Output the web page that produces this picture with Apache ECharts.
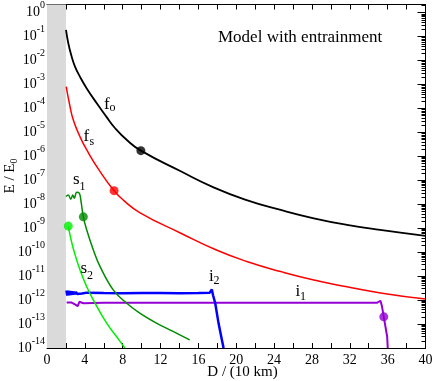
<!DOCTYPE html>
<html><head><meta charset="utf-8">
<script src="https://cdn.jsdelivr.net/npm/echarts@6/dist/echarts.min.js"></script>
<style>html,body{margin:0;padding:0;background:#fff}#c{width:436px;height:381px}</style>
</head><body><div id="c"></div>
<script>
// ---- data ----
const fo_x = [2.01,2.25,2.61,2.96,3.49,4.2,5.26,6.23,7.2,8.5,9.92,14.08,17.6,21.1,24.7,28.2,31.7,35.2,40];
const fo_y = [1.9e-1,5.3e-2,1.45e-2,5.6e-3,2.1e-3,6.9e-4,1.65e-4,4.8e-5,1.5e-5,4.6e-6,1.74e-6,2.45e-7,5.1e-8,1.5e-8,5.8e-9,2.6e-9,1.38e-9,8.5e-10,4.8e-10];

const fs_x = [2.03,2.4,2.78,3.49,4.2,5.61,7.09,8.07,9.84,14.14,17.9,21.2,24.7,28.2,31.7,35.25,40];
const fs_y = [8.1e-4,1.4e-4,3.3e-5,6.6e-6,1.86e-6,2.3e-7,3.7e-8,1.5e-8,4.4e-9,6.2e-10,1.23e-10,4.0e-11,1.55e-11,6.9e-12,3.6e-12,2.0e-12,1.1e-12];

const s1_x = [2.01,2.25,2.51,2.72,2.89,3.14,3.42,3.6,3.84,4.2,4.9,5.61,7.02,8.43,9.84,11.61,13.37,15.08];
const s1_y = [2.1e-8,2.45e-8,1.62e-8,2.45e-8,1.78e-8,3.2e-8,2.9e-8,1.29e-8,3.0e-9,8.5e-10,1.23e-10,2.5e-11,2.6e-12,7.4e-13,2.8e-13,1.07e-13,4.8e-14,2.2e-14];

const s2_x = [2.25,2.47,2.82,3.49,4.2,4.9,6.32,7.72,8.22];
const s2_y = [1.23e-9,4.5e-10,1.23e-10,1.8e-11,3.6e-12,1.0e-12,1.07e-13,1.9e-14,1.0e-14];

const i2_x = [2.05,2.15,2.25,2.35,2.45,2.55,2.65,2.75,2.85,2.95,3.05,3.2,3.4,3.7,4.2,6,8,10,12,14,16,17.2,17.42,17.55,17.78,18.13,18.49,18.66];
const i2_y = [2.5e-12,1.55e-12,2.45e-12,1.6e-12,2.4e-12,1.65e-12,2.3e-12,1.7e-12,2.25e-12,1.75e-12,2.2e-12,1.8e-12,2.1e-12,1.9e-12,2.05e-12,2.0e-12,1.95e-12,2.0e-12,2.0e-12,1.95e-12,2.0e-12,2.05e-12,2.8e-12,1.6e-12,7.4e-13,1.07e-13,2.1e-14,1.0e-14];

const i1_x = [2.08,2.6,2.96,3.25,3.42,3.84,6,10,15,20,25,30,34.9,35.24,35.4,35.59,35.95,36.01];
const i1_y = [7.9e-13,7.9e-13,6.6e-13,5.6e-13,8.5e-13,7.4e-13,7.8e-13,7.7e-13,7.8e-13,7.7e-13,7.8e-13,7.7e-13,7.8e-13,9.4e-13,5.5e-13,2.0e-13,2.95e-14,1.0e-14];

const mk_x = [9.92, 7.09, 3.84, 2.25, 35.59];
const mk_y = [1.74e-6, 3.7e-8, 3.0e-9, 1.23e-9, 2.0e-13];
const mk_color = ['#000000','#ff0000','#008b00','#00ee00','#9400d3'];

const xTicks = [0,4,8,12,16,20,24,28,32,36,40];
const yExp = [-14,-13,-12,-11,-10,-9,-8,-7,-6,-5,-4,-3,-2,-1,0];
const shadeRange = [0, 2];

// ---- build ----
const FONT = '"Liberation Serif", "Times New Roman", serif';
const zip = (xs, ys) => xs.map((x, i) => [x, ys[i]]);
const yMajor = yExp.map(e => Math.pow(10, e));
const yMinor = [];
yExp.forEach(e => { for (let k = 2; k <= 9; k++) { const v = k * Math.pow(10, e); if (v <= 2.2) yMinor.push(v); } });

const chart = echarts.init(document.getElementById('c'), null, {renderer: 'canvas'});
const axLine = {show: true, lineStyle: {color: '#000', width: 1}};
const yBase = {type: 'log', logBase: 10, min: 1e-14, max: 2.2, splitLine: {show: false}, minorTick: {show: false}, axisLine: axLine};
const supRich = {
  b: {fontFamily: FONT, fontSize: 14, color: '#000', lineHeight: 24, verticalAlign: 'middle'},
  s: {fontFamily: FONT, fontSize: 10, color: '#000', lineHeight: 11, verticalAlign: 'top'}
};
const line = (xs, ys, color, w, smooth, z) => ({
  type: 'line', data: zip(xs, ys), showSymbol: false, symbol: 'none',
  lineStyle: {color: color, width: w}, smooth: smooth,
  z: z || 3, silent: true, clip: true
});

chart.setOption({
  animation: false,
  backgroundColor: '#fff',
  grid: {left: 47, right: 10.5, top: 4.5, bottom: 33, containLabel: false},
  xAxis: [
    {type: 'value', position: 'bottom', min: 0, max: 40, interval: 2, splitLine: {show: false}, axisLine: axLine,
     axisTick: {show: true, inside: true, length: 5, lineStyle: {color: '#000'}},
     axisLabel: {margin: 5, fontFamily: FONT, fontSize: 14, color: '#000',
       formatter: v => xTicks.indexOf(v) >= 0 ? String(v) : ''}},
    {type: 'value', position: 'top', min: 0, max: 40, interval: 2, splitLine: {show: false}, axisLine: axLine,
     axisTick: {show: true, inside: true, length: 5, lineStyle: {color: '#000'}}, axisLabel: {show: false}}
  ],
  yAxis: [
    Object.assign({}, yBase, {position: 'left',
      axisTick: {show: true, inside: true, length: 8, customValues: yMajor, lineStyle: {color: '#000'}},
      axisLabel: {show: true, margin: 2, customValues: yMajor,
        formatter: v => '{b|10}{s|' + Math.round(Math.log10(v)) + '}', rich: supRich}}),
    Object.assign({}, yBase, {position: 'left',
      axisTick: {show: true, inside: true, length: 4, customValues: yMinor, lineStyle: {color: '#000'}},
      axisLabel: {show: false}}),
    Object.assign({}, yBase, {position: 'right',
      axisTick: {show: true, inside: true, length: 8, customValues: yMajor, lineStyle: {color: '#000'}},
      axisLabel: {show: false}}),
    Object.assign({}, yBase, {position: 'right',
      axisTick: {show: true, inside: true, length: 4, customValues: yMinor, lineStyle: {color: '#000'}},
      axisLabel: {show: false}})
  ],
  series: [
    {type: 'line', data: [], z: 0, silent: true,
     markArea: {silent: true, itemStyle: {color: '#dadada'}, data: [[{xAxis: shadeRange[0]}, {xAxis: shadeRange[1]}]]}},
    line(i1_x, i1_y, '#9400d3', 2, false, 3),
    line(i2_x, i2_y, '#0000ff', 2.5, false, 3),
    line(s2_x, s2_y, '#00ee00', 1.5, 0.5, 4),
    line(s1_x, s1_y, '#008b00', 1.5, 0.4, 4),
    line(fs_x, fs_y, '#ff0000', 1.5, 0.5, 4),
    line(fo_x, fo_y, '#000000', 1.8, 0.5, 4),
    {type: 'scatter', z: 6, silent: true, symbol: 'circle', symbolSize: 9,
     data: mk_x.map((x, i) => ({value: [x, mk_y[i]], itemStyle: {color: mk_color[i]}}))}
  ],
  graphic: [
    {type: 'text', x: 218, y: 38, z: 10, style: {text: 'Model with entrainment', font: '17px ' + FONT, fill: '#000', textAlign: 'left', textVerticalAlign: 'middle'}},
    {type: 'text', x: 242.5, y: 372, z: 10, style: {text: 'D / (10 km)', font: '15px ' + FONT, fill: '#000', textAlign: 'center', textVerticalAlign: 'middle'}},
    {type: 'text', x: 10, y: 176, rotation: Math.PI / 2, z: 10, style: {text: '{a|E / E}{b|0}', textAlign: 'center', textVerticalAlign: 'middle',
      rich: {a: {fontFamily: FONT, fontSize: 15, fill: '#000', lineHeight: 18, verticalAlign: 'middle'},
             b: {fontFamily: FONT, fontSize: 10, fill: '#000', lineHeight: 10, verticalAlign: 'bottom'}}}},
    // curve labels
    {type: 'text', x: 104, y: 105, z: 10, style: {text: 'f', font: '17px ' + FONT, fill: '#000', textVerticalAlign: 'middle'}},
    {type: 'text', x: 109.5, y: 108, z: 10, style: {text: 'o', font: '12px ' + FONT, fill: '#000', textVerticalAlign: 'middle'}},
    {type: 'text', x: 83.5, y: 136.5, z: 10, style: {text: 'f', font: '17px ' + FONT, fill: '#000', textVerticalAlign: 'middle'}},
    {type: 'text', x: 89.5, y: 141.5, z: 10, style: {text: 's', font: '12px ' + FONT, fill: '#000', textVerticalAlign: 'middle'}},
    {type: 'text', x: 73, y: 180, z: 10, style: {text: 's', font: '17px ' + FONT, fill: '#000', textVerticalAlign: 'middle'}},
    {type: 'text', x: 79.5, y: 186.5, z: 10, style: {text: '1', font: '12px ' + FONT, fill: '#000', textVerticalAlign: 'middle'}},
    {type: 'text', x: 80.5, y: 269, z: 10, style: {text: 's', font: '17px ' + FONT, fill: '#000', textVerticalAlign: 'middle'}},
    {type: 'text', x: 87, y: 275.5, z: 10, style: {text: '2', font: '12px ' + FONT, fill: '#000', textVerticalAlign: 'middle'}},
    {type: 'text', x: 209, y: 276.5, z: 10, style: {text: 'i', font: '17px ' + FONT, fill: '#000', textVerticalAlign: 'middle'}},
    {type: 'text', x: 213.5, y: 280.5, z: 10, style: {text: '2', font: '12px ' + FONT, fill: '#000', textVerticalAlign: 'middle'}},
    {type: 'text', x: 295.5, y: 291.5, z: 10, style: {text: 'i', font: '17px ' + FONT, fill: '#000', textVerticalAlign: 'middle'}},
    {type: 'text', x: 300, y: 296.5, z: 10, style: {text: '1', font: '12px ' + FONT, fill: '#000', textVerticalAlign: 'middle'}}
  ]
});
</script>
</body></html>
